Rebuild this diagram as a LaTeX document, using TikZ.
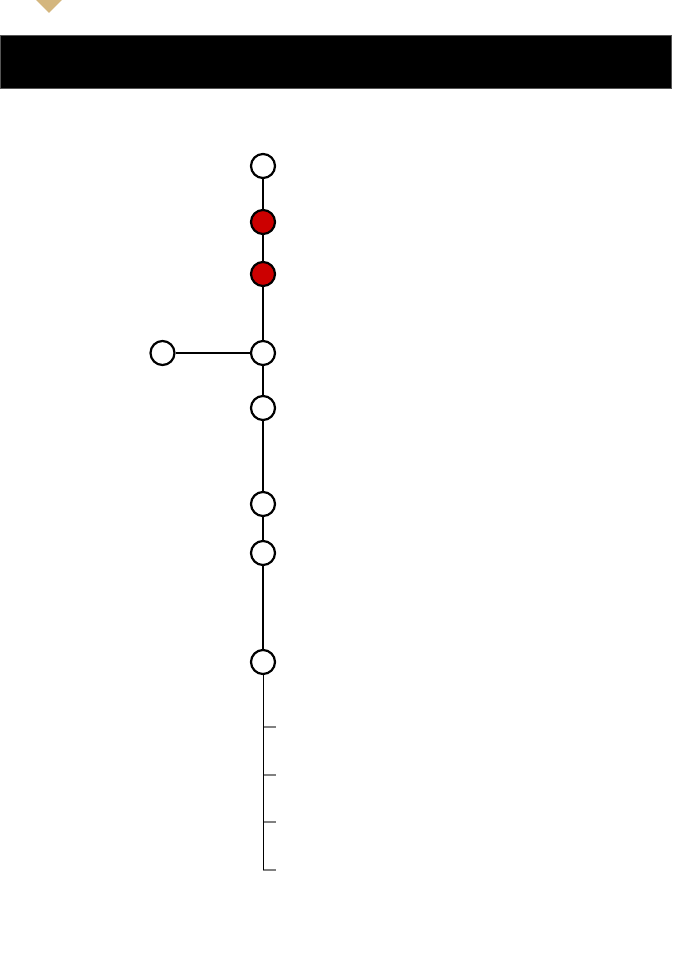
\documentclass[tikz,border=0pt]{standalone}
\usepackage{tikz}
\usetikzlibrary{arrows.meta, calc, positioning}

\definecolor{gold}{HTML}{D4B67E}
\definecolor{nodered}{HTML}{CC0000}
\definecolor{edgegray}{HTML}{555555}

\begin{document}
\begin{tikzpicture}[x=1pt, y=-1pt,
    pt/.style={circle, draw=black, line width=2.2pt, fill=white, minimum size=24pt, inner sep=0pt},
    hot/.style={pt, fill=nodered},
    trunk/.style={line width=2pt},
    tick/.style={draw=gray, line width=1.3pt}]
        % 定義
        \def\X{263}  % 幹のx座標
        \def\W{672}  % 幅
        \def\H{968}  % 高さ

        % 余白
        \useasboundingbox (0,0) rectangle (\W,\H);

        % 上部の飾りと黒い帯
        \fill[gold] (36,0) -- (62,0) -- (49,13) -- cycle;
        \filldraw[fill=black, draw=edgegray, line width=0.8pt] (0.5,35.5) rectangle (671.5,88);

        % 細い幹と目盛り
        \coordinate (bot) at (\X,870);
        \foreach \y [count=\i] in {727,775,822,870} {
            \coordinate (t\i) at (\X,\y);
            \coordinate (e\i) at (276,\y);
            \draw[tick] (t\i) -- (e\i);
        }

        % ノード
        \node[pt]  (n1) at (\X,166) {};
        \node[hot] (n2) at (\X,222) {};
        \node[hot] (n3) at (\X,274) {};
        \node[pt]  (n4) at (\X,353) {};
        \node[pt]  (n5) at (\X,408) {};
        \node[pt]  (n6) at (\X,504) {};
        \node[pt]  (n7) at (\X,553) {};
        \node[pt]  (n8) at (\X,662) {};
        \node[pt]  (s1) at (162.5,353) {};

        \draw[line width=1pt] (n8) -- (bot);

        % 太い幹
        \foreach \a/\b in {n1/n2, n2/n3, n3/n4, n4/n5, n5/n6, n6/n7, n7/n8, s1/n4}
            \draw[trunk] (\a) -- (\b);

    \end{tikzpicture}
\end{document}
